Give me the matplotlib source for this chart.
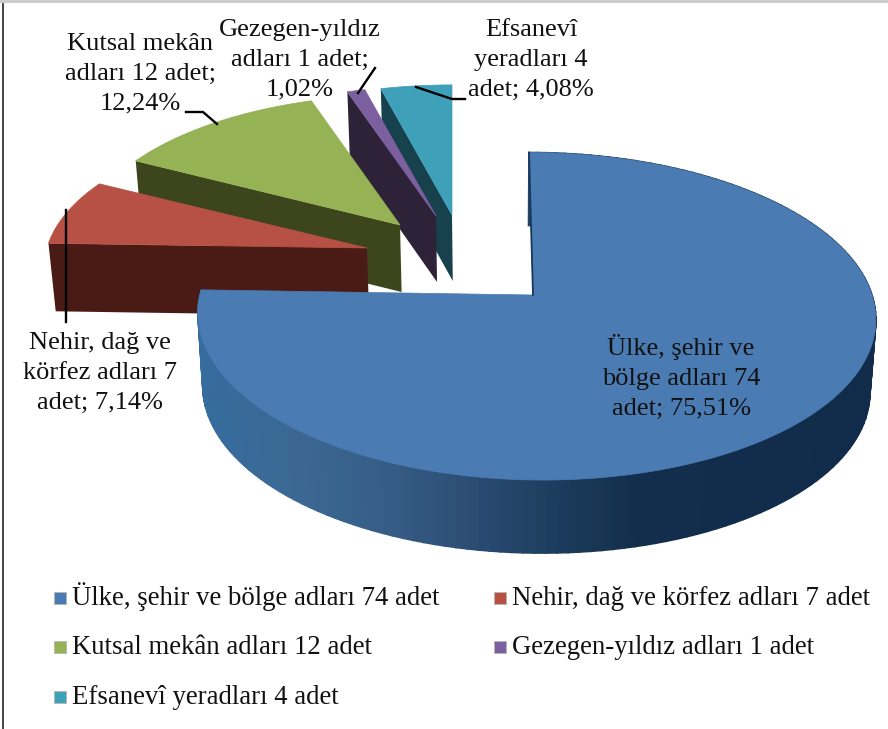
import numpy as np
import matplotlib
matplotlib.use("Agg")
import matplotlib.pyplot as plt
from matplotlib.patches import Polygon, Rectangle

plt.rcParams['font.family'] = ['Liberation Serif', 'DejaVu Serif']

categories = ['Ülke, şehir ve bölge adları 74 adet', 'Nehir, dağ ve körfez adları 7 adet',
              'Kutsal mekân adları 12 adet', 'Gezegen-yıldız adları 1 adet', 'Efsanevî yeradları 4 adet']
counts = [74, 7, 12, 1, 4]
slice_labels = ['Ülke, şehir ve\nbölge adları 74\nadet; 75,51%',
                'Nehir, dağ ve\nkörfez adları 7\nadet; 7,14%',
                'Kutsal mekân\nadları 12 adet;\n12,24%',
                'Gezegen-yıldız\nadları 1 adet;\n1,02%',
                'Efsanevî\nyeradları 4\nadet; 4,08%']

top_colors = ['#4a7bb3', '#b85145', '#95b255', '#7b5f9e', '#3fa0ba']
wall_colors = ['#2b4d73', '#4a1b15', '#3d451c', '#2d2238', '#17414d']

# apex of every exploded slice in pixels, then x and y radius, perspective, height
apex = [(533, 295), (367, 248), (400, 225), (436, 216), (452, 215)]
shift_x = [3, 0, 0, 0, 0]
radius_x = [336, 320, 316, 316, 316]
radius_y = [161, 147, 147, 147, 147]
height = [73, 68, 67, 66, 66]
persp = 0.13
skew = [7, 0, 0, 0, 0]

fig = plt.figure(figsize=(8.88, 7.29), dpi=100)
ax = fig.add_axes([0, 0, 1, 1])
ax.set_xlim(0, 888)
ax.set_ylim(729, 0)
ax.axis('off')

edges = np.cumsum([0] + counts) / sum(counts) * 2 * np.pi


def project(i, theta):
    x = np.sin(theta)
    y = np.cos(theta)
    w = 1 + persp * y
    return apex[i][0] + shift_x[i] + radius_x[i] * x / w - skew[i] * y, apex[i][1] - radius_y[i] * y / w


def drop(i, px, py):
    return 500 + (px - 500) * 0.984, py + height[i]


def wall_shade(x):
    xs = [200, 300, 400, 480, 560, 640, 880]
    r = [0x36, 0x3b, 0x35, 0x2b, 0x1d, 0x13, 0x11]
    g = [0x6c, 0x68, 0x5b, 0x4c, 0x3d, 0x2e, 0x2c]
    b = [0x9e, 0x93, 0x84, 0x72, 0x5e, 0x4c, 0x4a]
    return (np.interp(x, xs, r) / 255, np.interp(x, xs, g) / 255, np.interp(x, xs, b) / 255)


# back slices first, the big one goes on top
for i in [4, 3, 2, 1, 0]:
    th = np.linspace(edges[i], edges[i + 1], 160)
    px, py = project(i, th)
    if i == 0:
        for k in range(len(th) - 1):
            x0, y0 = drop(i, px[k], py[k])
            x1, y1 = drop(i, px[k + 1], py[k + 1])
            c = wall_shade(px[k])
            ax.add_patch(Polygon([(px[k], py[k]), (px[k + 1], py[k + 1]), (x1, y1), (x0, y0)],
                                 facecolor=c, edgecolor=c, lw=1.2, zorder=2))
    else:
        ax0, ay0 = apex[i]
        x0, y0 = drop(i, px[0], py[0])
        x1, y1 = drop(i, ax0, ay0)
        ax.add_patch(Polygon([(px[0], py[0]), (ax0, ay0), (x1, y1), (x0, y0)],
                             facecolor=wall_colors[i], edgecolor='none', zorder=2))
    ax.add_patch(Polygon(list(zip(px, py)) + [apex[i]], facecolor=top_colors[i],
                         edgecolor=top_colors[i], lw=0.5, zorder=2))
    if i == 0:
        ax.plot([px[0], apex[i][0]], [py[0], apex[i][1]], color='#17395c', lw=1.3, zorder=2.5)

# leader lines
ax.plot([66, 66], [210, 322], color='black', lw=1.7, zorder=3)
ax.plot([186, 203, 217], [112, 112, 124], color='black', lw=1.7, zorder=3)
ax.plot([375, 358], [68, 93], color='black', lw=1.7, zorder=3)
ax.plot([416, 452, 465], [87, 99, 99], color='black', lw=1.7, zorder=3)

label_pos = [(681, 377), (100, 373), (140, 74), (300, 60), (531, 60)]
for i in range(5):
    ax.text(label_pos[i][0], label_pos[i][1], slice_labels[i], fontsize=19, color='#111111',
            ha='center', va='center', multialignment='center', linespacing=1.45, zorder=4)

# legend
legend_x = [54, 494, 54, 494, 54]
legend_y = [605, 605, 654, 654, 704]
for i in range(5):
    ax.add_patch(Rectangle((legend_x[i], legend_y[i] - 13), 12, 12, facecolor=top_colors[i],
                           edgecolor='#b5b5b5', lw=0.6, zorder=3))
    ax.text(legend_x[i] + 18, legend_y[i], categories[i], fontsize=19.3, color='#111111',
            ha='left', va='baseline', zorder=4)

# frame of the scanned chart
ax.plot([3, 3], [4, 729], color='#444444', lw=1.4)
ax.plot([0, 888], [0.8, 0.8], color='#c8c8c8', lw=2)

fig.savefig('out.png', dpi=100, facecolor='white')
